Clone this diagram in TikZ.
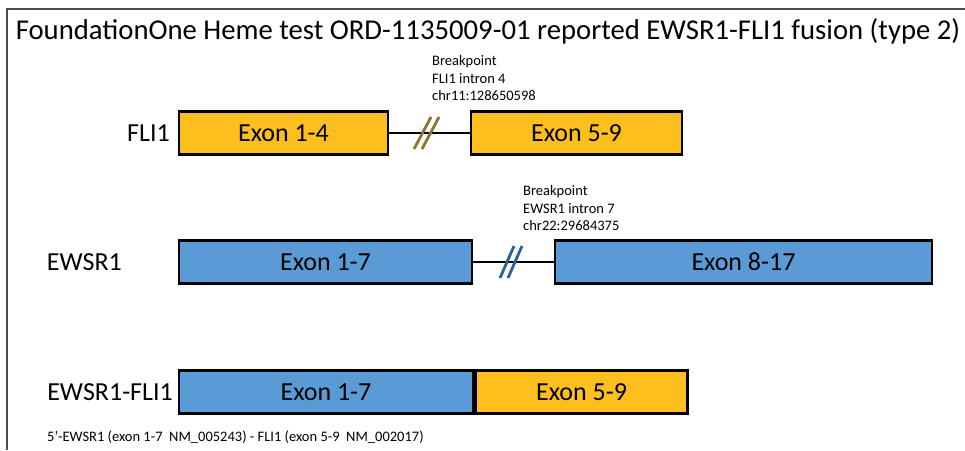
\documentclass[tikz,border=0pt]{standalone}
\usepackage{fontspec}
\setmainfont{Carlito}
\definecolor{exy}{HTML}{FCBF1E}
\definecolor{exb}{HTML}{5B9BD5}
\definecolor{slo}{HTML}{8C7433}
\definecolor{slb}{HTML}{2E628F}
\tikzset{
  exon/.style={draw=black, line width=2.6pt, inner sep=0pt, minimum height=43pt, font=\fontsize{26}{26}\selectfont},
  gene/.style={inner sep=0pt, font=\fontsize{26}{26}\selectfont},
  small/.style={inner sep=0pt, align=left, font=\fontsize{14.5}{17.5}\selectfont},
  intron/.style={line width=2.4pt},
  slash/.style={line width=2.8pt}
}
\begin{document}
\begin{tikzpicture}[x=1pt,y=-1pt]
\useasboundingbox (0,0) rectangle (965,450);
\fill[white] (0,0) rectangle (965,450);
\draw[line width=1.2pt, gray!60!black] (7,450) -- (7,9) -- (965,9);
\node[inner sep=0pt, font=\fontsize{28.7}{28.7}\selectfont] (title) at (488,31) {FoundationOne Heme test ORD-1135009-01 reported EWSR1-FLI1 fusion (type 2)};
% FLI1
\node[gene, anchor=east] (fli) at (170,133) {FLI1};
\node[exon, fill=exy, minimum width=209pt] (f1) at (283.5,133) {Exon 1-4};
\node[exon, fill=exy, minimum width=211pt] (f2) at (576.5,133) {Exon 5-9};
\draw[intron] (f1.east) -- (f2.west);
\coordinate (fs1a) at (414,149); \coordinate (fs1b) at (431,117);
\coordinate (fs2a) at (422,149); \coordinate (fs2b) at (439,117);
\draw[slash, slo] (fs1a) -- (fs1b);
\draw[slash, slo] (fs2a) -- (fs2b);
\node[small, anchor=south west] (bp1) at (432,101) {Breakpoint\\FLI1 intron 4\\chr11:128650598};
% EWSR1
\node[gene, anchor=east] (ews) at (122,262) {EWSR1};
\node[exon, fill=exb, minimum width=293pt] (e1) at (325.5,262) {Exon 1-7};
\node[exon, fill=exb, minimum width=377pt] (e2) at (743.5,262) {Exon 8-17};
\draw[intron] (e1.east) -- (e2.west);
\coordinate (es1a) at (500,278); \coordinate (es1b) at (514,246);
\coordinate (es2a) at (508,278); \coordinate (es2b) at (522,246);
\draw[slash, slb] (es1a) -- (es1b);
\draw[slash, slb] (es2a) -- (es2b);
\node[small, anchor=south west] (bp2) at (523,231) {Breakpoint\\EWSR1 intron 7\\chr22:29684375};
% fusion
\node[gene, anchor=east] (fus) at (173,392) {EWSR1-FLI1};
\node[exon, fill=exb, minimum width=294pt] (u1) at (326,392) {Exon 1-7};
\node[exon, fill=exy, minimum width=212pt, anchor=west] (u2) at (u1.east) {Exon 5-9};
\node[small, anchor=west] (note) at (47,437) {5'-EWSR1 (exon 1-7~~NM\_005243) - FLI1 (exon 5-9~~NM\_002017)};
\end{tikzpicture}
\end{document}
